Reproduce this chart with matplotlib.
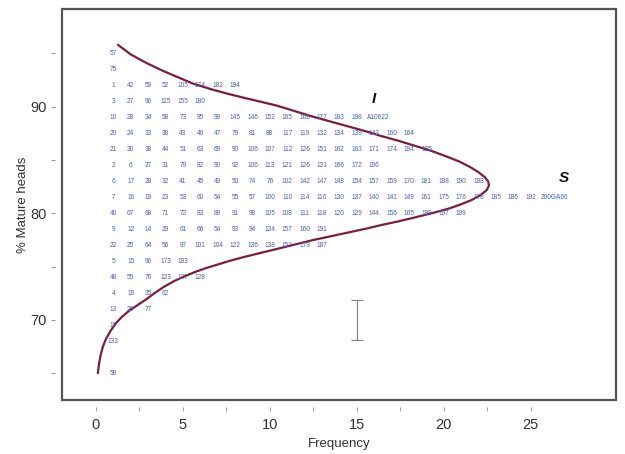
import matplotlib
matplotlib.use("Agg")
import matplotlib.pyplot as plt
from matplotlib.patches import Rectangle

plt.rcParams['font.family'] = ['Liberation Sans', 'DejaVu Sans']

# Row levels (% mature heads) and the genotype labels stacked along each row
row_levels = [95, 93.5, 92, 90.5, 89, 87.5, 86, 84.5, 83, 81.5, 80, 78.5, 77,
              75.5, 74, 72.5, 71, 69.5, 68, 65]
row_labels = [
    ["57"],
    ["75"],
    ["1", "42", "59", "52", "105", "174", "182", "194"],
    ["3", "27", "96", "115", "155", "180"],
    ["10", "28", "34", "58", "73", "95", "99", "145", "146", "152", "165", "168",
     "177", "183", "198", "A10622"],
    ["20", "24", "33", "38", "43", "46", "47", "79", "81", "88", "117", "119",
     "132", "134", "139", "143", "160", "164"],
    ["21", "30", "38", "44", "51", "63", "69", "90", "106", "107", "112", "126",
     "151", "162", "163", "171", "174", "194", "195"],
    ["2", "6", "27", "31", "79", "82", "90", "92", "106", "113", "121", "126",
     "131", "166", "172", "196"],
    ["6", "17", "28", "32", "41", "45", "49", "50", "74", "76", "102", "142",
     "147", "148", "154", "157", "159", "170", "181", "188", "190", "198"],
    ["7", "16", "19", "23", "53", "60", "54", "55", "57", "100", "110", "114",
     "116", "130", "137", "140", "141", "149", "161", "175", "176", "178",
     "185", "186", "192", "200GA66"],
    ["40", "67", "68", "71", "72", "83", "89", "91", "98", "105", "108", "111",
     "118", "120", "129", "144", "156", "165", "189", "197", "199"],
    ["9", "12", "14", "29", "61", "66", "54", "93", "94", "124", "157", "160",
     "191"],
    ["22", "25", "64", "56", "97", "101", "104", "122", "136", "138", "153",
     "179", "187"],
    ["5", "15", "96", "173", "193"],
    ["48", "55", "76", "123", "127", "128"],
    ["4", "19", "35", "62"],
    ["13", "26", "77"],
    ["11"],
    ["133"],
    ["58"],
]

# Fitted distribution curve (frequency, % mature heads)
curve_freq = [1.26, 2.0, 2.9, 3.8, 4.8, 5.6, 6.7, 7.6, 8.6, 9.5, 10.4, 11.5,
              12.5, 13.5, 14.5, 15.5, 16.4, 17.4, 18.3, 19.3, 20.2, 20.9,
              21.5, 22.0, 22.35, 22.55, 22.6, 22.45, 22.1, 21.6, 21.0, 20.3,
              19.4, 18.3, 17.4, 16.4, 15.5, 14.5, 13.5, 12.5, 11.5, 10.5,
              9.5, 8.5, 7.7, 7.0, 6.3, 5.7, 5.1, 4.5, 3.9, 3.4, 2.9, 2.4,
              1.9, 1.5, 1.15, 0.85, 0.57, 0.4, 0.27, 0.18, 0.11]
curve_pct = [95.8, 94.9, 94.1, 93.4, 92.7, 92.15, 91.6, 91.2, 90.8, 90.45,
             90.1, 89.55, 89.05, 88.6, 88.15, 87.7, 87.25, 86.8, 86.35, 85.85,
             85.3, 84.85, 84.35, 83.85, 83.4, 83.0, 82.6, 82.15, 81.7, 81.25,
             80.85, 80.45, 80.05, 79.6, 79.25, 78.9, 78.55, 78.2, 77.85, 77.5,
             77.1, 76.7, 76.3, 75.9, 75.55, 75.2, 74.85, 74.5, 74.1, 73.65,
             73.1, 72.55, 71.95, 71.4, 70.85, 70.3, 69.7, 69.0, 68.2, 67.5,
             66.7, 65.9, 65.0]

# Error bar at frequency 15
err_x = 15
err_low = 68.1
err_high = 71.9

# Annotation letters
ann_text = ["I", "S"]
ann_x = [16.0, 26.9]
ann_y = [90.7, 83.3]

fig = plt.figure(figsize=(6.25, 4.54), dpi=100)
ax = fig.add_axes([0.0992, 0.119, 0.8864, 0.861])

ax.set_xlim(-1.95, 29.9)
ax.set_ylim(62.5, 99.15)

label_color = "#4a5cc4"
for lvl, labels in zip(row_levels, row_labels):
    for k, lab in enumerate(labels, start=1):
        if len(lab) > 3:
            ax.text(k - 0.42, lvl, lab, fontsize=4.7, color=label_color,
                    ha="left", va="center")
        else:
            ax.text(k, lvl, lab, fontsize=4.7, color=label_color,
                    ha="center", va="center")

ax.plot(curve_freq, curve_pct, color="#7b1e3a", lw=1.6,
        solid_capstyle="round", solid_joinstyle="round")

ax.errorbar([err_x], [(err_low + err_high) / 2],
            yerr=[[(err_high - err_low) / 2], [(err_high - err_low) / 2]],
            fmt="none", ecolor="#888888", elinewidth=0.9, capsize=4,
            capthick=0.9)

for t, x, y in zip(ann_text, ann_x, ann_y):
    ax.text(x, y, t, fontsize=11, fontweight="bold", fontstyle="italic",
            color="#111111", ha="center", va="center")

# Frame drawn as a box; ticks detached from it
for s in ax.spines.values():
    s.set_color("none")
ax.spines["left"].set_position(("outward", 5))
ax.spines["bottom"].set_position(("outward", 5))
ax.add_patch(Rectangle((0, 0), 1, 1, transform=ax.transAxes, fill=False,
                       edgecolor="#555555", lw=1.6, clip_on=False, zorder=5))

ax.set_xticks([0, 2.5, 5, 7.5, 10, 12.5, 15, 17.5, 20, 22.5, 25])
ax.set_xticklabels(["0", "", "5", "", "10", "", "15", "", "20", "", "25"])
ax.set_yticks([65, 70, 75, 80, 85, 90, 95])
ax.set_yticklabels(["", "70", "", "80", "", "90", ""])
ax.tick_params(axis="both", direction="out", length=3, width=0.7,
               color="#999999", labelsize=10.5, labelcolor="#333333")
ax.tick_params(axis="x", pad=5)
ax.tick_params(axis="y", pad=3)

ax.set_xlabel("Frequency", fontsize=9.5, color="#333333", labelpad=4)
ax.set_ylabel("% Mature heads", fontsize=9.5, color="#333333", labelpad=1)

fig.savefig("out.png", dpi=100)
